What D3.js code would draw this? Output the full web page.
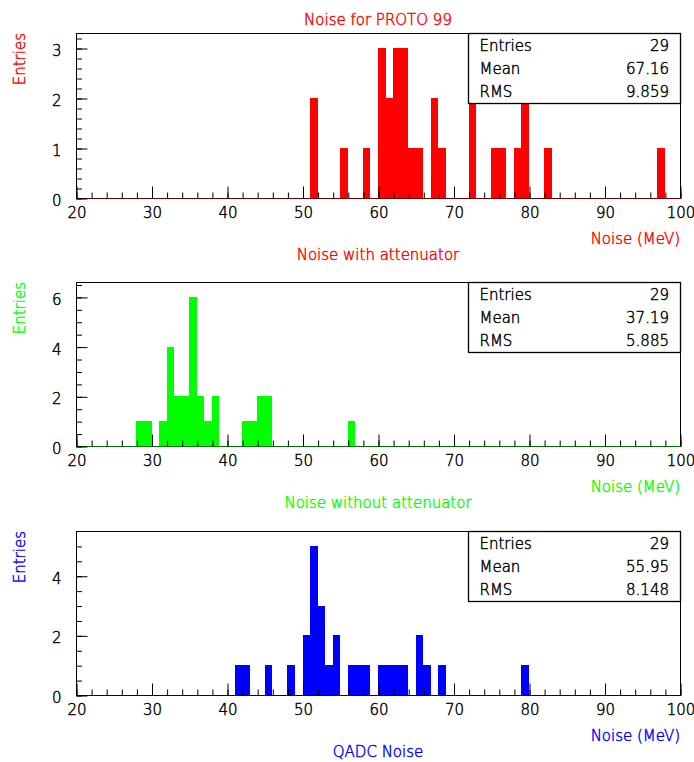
<!DOCTYPE html>
<html>
<head>
<meta charset="utf-8">
<script src="https://cdn.jsdelivr.net/npm/d3@7"></script>
<style>
  html, body { margin: 0; padding: 0; background: #ffffff; }
  svg { display: block; }
  text { font-family: "DejaVu Sans", sans-serif; font-size: 15px; font-weight: 200; stroke-width: 0.45px; }
</style>
</head>
<body>
<script>
// Histogram contents: lower edge of each filled 1 MeV bin and its count
const redBins   = [51, 55, 58, 60, 61, 62, 63, 64, 65, 67, 68, 72, 75, 76, 78, 79, 82, 97];
const redCounts = [ 2,  1,  1,  3,  2,  3,  3,  1,  1,  2,  1,  2,  1,  1,  1,  2,  1,  1];

const greenBins   = [28, 29, 31, 32, 33, 34, 35, 36, 37, 38, 42, 43, 44, 45, 56];
const greenCounts = [ 1,  1,  1,  4,  2,  2,  6,  2,  1,  2,  1,  1,  2,  2,  1];

const blueBins   = [41, 42, 45, 48, 50, 51, 52, 53, 54, 56, 57, 58, 60, 61, 62, 63, 65, 66, 68, 79];
const blueCounts = [ 1,  1,  1,  1,  2,  5,  3,  1,  2,  1,  1,  1,  1,  1,  1,  1,  2,  1,  1,  1];

// Statistics box entries
const statNames  = ["Entries", "Mean", "RMS"];
const redStats   = ["29", "67.16", "9.859"];
const greenStats = ["29", "37.19", "5.885"];
const blueStats  = ["29", "55.95", "8.148"];

// Axis settings
const xRange = [20, 100];
const xTickValues = [20, 30, 40, 50, 60, 70, 80, 90, 100];
const yMaxima = [3.3, 6.6, 5.5];
const yMajorSteps = [1, 2, 2];
const yMinorSteps = [0.2, 0.5, 0.5];

// Text
const pageTitle = "Noise for PROTO 99";
const yTitle = "Entries";
const xTitle = "Noise (MeV)";
const captions = ["Noise with attenuator", "Noise without attenuator", "QADC Noise"];

const W = 694, H = 762;
const left = 76, right = 680;
const panelTops = [33, 282, 531];
const panelBottoms = [198, 446, 695];
const colors = ["#ff0000", "#00ff00", "#0000ff"];

const panels = [
  { bins: redBins,   counts: redCounts,   stats: redStats },
  { bins: greenBins, counts: greenCounts, stats: greenStats },
  { bins: blueBins,  counts: blueCounts,  stats: blueStats }
];

const svg = d3.select("body").append("svg")
  .attr("width", W).attr("height", H);

// coloured text helper: thin glyphs traced with their own colour
function label(sel, color) {
  return sel.append("text").attr("fill", color).attr("stroke", color);
}

label(svg, colors[0])
  .attr("x", (left + right) / 2).attr("y", 24.5)
  .attr("text-anchor", "middle")
  .text(pageTitle);

const x = d3.scaleLinear().domain(xRange).range([left, right]);

function range(a, b, step) {
  const out = [];
  const n = Math.round((b - a) / step);
  for (let i = 0; i <= n; i++) out.push(+(a + i * step).toFixed(6));
  return out;
}

panels.forEach((p, i) => {
  const top = panelTops[i], bottom = panelBottoms[i];
  const color = colors[i];
  const y = d3.scaleLinear().domain([0, yMaxima[i]]).range([bottom, top]);
  const g = svg.append("g");

  // bars, one rect per filled bin
  g.selectAll("rect.bar")
    .data(p.bins.map((b, k) => ({ lo: b, n: p.counts[k] })))
    .join("rect")
    .attr("class", "bar")
    .attr("x", d => Math.round(x(d.lo)))
    .attr("width", d => Math.round(x(d.lo + 1)) - Math.round(x(d.lo)))
    .attr("y", d => Math.round(y(d.n)))
    .attr("height", d => Math.round(y(0)) - Math.round(y(d.n)) + 1)
    .attr("fill", color)
    .attr("shape-rendering", "crispEdges");

  // frame
  g.append("rect")
    .attr("x", left + 0.5).attr("y", top + 0.5)
    .attr("width", right - left).attr("height", bottom - top)
    .attr("fill", "none").attr("stroke", "#000").attr("stroke-width", 1);

  // histogram outline along zero
  g.append("line")
    .attr("x1", x(xRange[0])).attr("x2", x(xRange[1]))
    .attr("y1", y(0) + 0.5).attr("y2", y(0) + 0.5)
    .attr("stroke", color).attr("stroke-opacity", 0.45);

  // x axis: major every 10, minor every 2, ticks pointing inward
  const xMinor = d3.axisBottom(x).tickValues(range(20, 100, 2))
    .tickSizeInner(-6).tickSizeOuter(0).tickFormat("");
  g.append("g").attr("transform", `translate(0.5,${bottom + 0.5})`).call(xMinor)
    .call(s => s.select(".domain").remove());
  const xMajor = d3.axisBottom(x).tickValues(xTickValues)
    .tickSizeInner(-12).tickSizeOuter(0).tickPadding(9).tickFormat(d3.format("d"));
  g.append("g").attr("transform", `translate(0.5,${bottom + 0.5})`).call(xMajor)
    .call(s => s.select(".domain").remove())
    .call(s => s.selectAll("text").attr("font-size", 15.5).attr("fill", "#000")
      .attr("stroke", "#000").attr("font-family", "DejaVu Sans, sans-serif"));

  // y axis
  const yMinor = d3.axisLeft(y)
    .tickValues(range(0, yMaxima[i], yMinorSteps[i]).filter(v => y(v) > top + 2))
    .tickSizeInner(-5.5).tickSizeOuter(0).tickFormat("");
  g.append("g").attr("transform", `translate(${left + 0.5},0.5)`).call(yMinor)
    .call(s => s.select(".domain").remove());
  const yMajor = d3.axisLeft(y)
    .tickValues(range(0, Math.floor(yMaxima[i] / yMajorSteps[i]) * yMajorSteps[i], yMajorSteps[i]))
    .tickSizeInner(-11).tickSizeOuter(0).tickPadding(15).tickFormat(d3.format("d"));
  g.append("g").attr("transform", `translate(${left + 0.5},0.5)`).call(yMajor)
    .call(s => s.select(".domain").remove())
    .call(s => s.selectAll("text").attr("font-size", 15.5).attr("fill", "#000")
      .attr("stroke", "#000").attr("dy", "0.47em").attr("font-family", "DejaVu Sans, sans-serif"));

  // axis titles
  label(g, color)
    .attr("transform", `translate(24.5,${top}) rotate(-90)`)
    .attr("text-anchor", "end")
    .attr("font-size", 16.5)
    .text(yTitle);
  label(g, color)
    .attr("x", right).attr("y", bottom + 46)
    .attr("text-anchor", "end")
    .text(xTitle);
  label(g, color)
    .attr("x", (left + right) / 2).attr("y", bottom + 61.5)
    .attr("text-anchor", "middle")
    .text(captions[i]);

  // statistics box
  const bx = 468, bh = 70;
  g.append("rect")
    .attr("x", bx + 0.5).attr("y", top + 0.5)
    .attr("width", right - bx).attr("height", bh)
    .attr("fill", "#fff").attr("stroke", "#000").attr("stroke-width", 1.3);
  statNames.forEach((name, r) => {
    const by = top + 18 + r * 23;
    label(g, "#000").attr("x", 479.5).attr("y", by).text(name);
    label(g, "#000").attr("x", 669).attr("y", by).attr("text-anchor", "end").text(p.stats[r]);
  });
});
</script>
</body>
</html>
